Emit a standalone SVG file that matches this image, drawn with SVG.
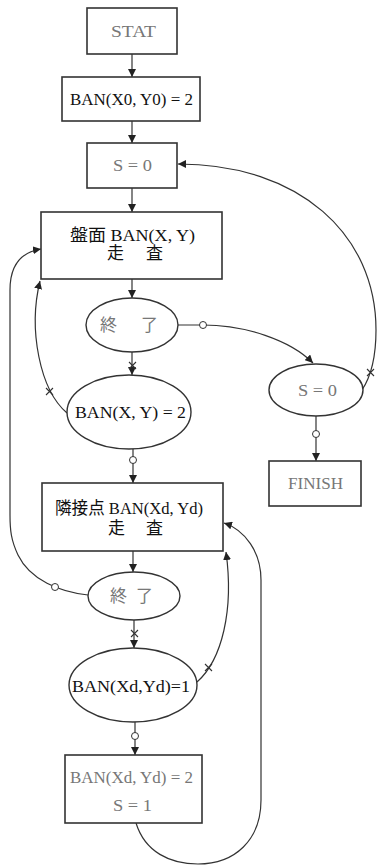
<svg xmlns="http://www.w3.org/2000/svg" width="378" height="866" viewBox="0 0 378 866">
<style>
.box{fill:#fff;stroke:#333;stroke-width:1.6}
.ell{fill:#fff;stroke:#333;stroke-width:1.4}
.ln{fill:none;stroke:#333;stroke-width:1.2}
.arr{fill:none;stroke:#333;stroke-width:1.2;marker-end:url(#ah)}
.t{font-family:"Liberation Serif","Noto Sans CJK JP",serif;font-size:17px;fill:#111}
.g{fill:#777}
.o{fill:#fff;stroke:#333;stroke-width:1}
.x{fill:none;stroke:#333;stroke-width:1.1}
</style>
<defs>
<marker id="ah" viewBox="0 0 8 8" refX="8" refY="4" markerWidth="8" markerHeight="8" markerUnits="userSpaceOnUse" orient="auto">
<path d="M0,0 L8,4 L0,8 z" fill="#222"/>
</marker>
</defs>

<g id="connectors">
<path class="arr" d="M132,54 L132,77"/>
<path class="arr" d="M132,121 L132,143"/>
<path class="arr" d="M132,188 L132,212"/>
<path class="arr" d="M132,279 L132,298"/>
<path class="arr" d="M132,352 L132,375"/>
<path class="arr" d="M133,449 L133,483"/>
<path class="arr" d="M133,551 L133,572"/>
<path class="arr" d="M134,620 L134,648"/>
<path class="arr" d="M135,722 L135,755"/>
<path class="arr" d="M316,416 L316,461"/>
<path class="arr" d="M178,325 L203,325 C245,325 290,340 313,363"/>
<path class="arr" d="M362,390 C370,378 376,360 376,330 C376,235 300,164 178,164"/>
<path class="arr" d="M67,413 C40,390 28,330 40,281"/>
<path class="arr" d="M88,595 C60,592 30,580 18,555 C11,540 10,530 10,515 L10,290 C10,265 22,252 41,249"/>
<path class="arr" d="M197,682 C222,660 234,610 226,552"/>
<path class="arr" d="M136,823 C145,852 170,864 198,864 C235,864 261,840 261,800 L261,580 C261,552 245,530 224,523"/>
<circle class="o" cx="203" cy="325" r="3.5"/>
<circle class="o" cx="316" cy="434" r="3.5"/>
<circle class="o" cx="133" cy="460" r="3.5"/>
<circle class="o" cx="55" cy="587" r="3.5"/>
<circle class="o" cx="135" cy="736" r="3.5"/>
<path class="x" d="M129,362 L136,369 M136,362 L129,369"/>
<path class="x" d="M367,369 L374,376 M374,369 L367,376"/>
<path class="x" d="M46,388 L53,395 M53,388 L46,395"/>
<path class="x" d="M131,630 L138,637 M138,630 L131,637"/>
<path class="x" d="M205,664 L212,671 M212,664 L205,671"/>
</g>

<g id="stat"><rect class="box" x="87" y="8" width="90" height="46"/><text class="t g" x="111" y="37" textLength="45" lengthAdjust="spacingAndGlyphs">STAT</text></g>
<g id="init"><rect class="box" x="62" y="77" width="138" height="44"/><text class="t" x="70" y="105" textLength="123" lengthAdjust="spacingAndGlyphs">BAN(X0, Y0) = 2</text></g>
<g id="s0"><rect class="box" x="87" y="143" width="90" height="45"/><text class="t g" x="113" y="171" textLength="39" lengthAdjust="spacingAndGlyphs">S = 0</text></g>
<g id="scan1"><rect class="box" x="41" y="212" width="181" height="67"/>
<text class="t" x="70" y="241" textLength="125" lengthAdjust="spacingAndGlyphs">盤面 BAN(X, Y)</text>
<text class="t" x="107" y="259" textLength="56" lengthAdjust="spacing">走　査</text></g>
<g id="end1"><ellipse class="ell" cx="132" cy="325" rx="46" ry="27"/><text class="t g" x="100" y="331" textLength="58" lengthAdjust="spacing">終　了</text></g>
<g id="cond1"><ellipse class="ell" cx="129" cy="412" rx="62" ry="37"/><text class="t" x="75" y="418" textLength="111" lengthAdjust="spacingAndGlyphs">BAN(X, Y) = 2</text></g>
<g id="s0check"><ellipse class="ell" cx="316" cy="390" rx="47" ry="26"/><text class="t g" x="298" y="396" textLength="39" lengthAdjust="spacingAndGlyphs">S = 0</text></g>
<g id="finish"><rect class="box" x="269" y="461" width="92" height="45"/><text class="t g" x="288" y="489" textLength="55" lengthAdjust="spacingAndGlyphs">FINISH</text></g>
<g id="scan2"><rect class="box" x="42" y="483" width="181" height="68"/>
<text class="t" x="55" y="514" textLength="148" lengthAdjust="spacingAndGlyphs">隣接点 BAN(Xd, Yd)</text>
<text class="t" x="108" y="534" textLength="55" lengthAdjust="spacing">走　査</text></g>
<g id="end2"><ellipse class="ell" cx="134" cy="596" rx="46" ry="24"/><text class="t g" x="110" y="602" textLength="43" lengthAdjust="spacing">終　了</text></g>
<g id="cond2"><ellipse class="ell" cx="133" cy="685" rx="64" ry="37"/><text class="t" x="72" y="692" textLength="118" lengthAdjust="spacingAndGlyphs">BAN(Xd,Yd)=1</text></g>
<g id="set2"><rect class="box" x="65" y="755" width="137" height="68"/>
<text class="t g" x="70" y="783" textLength="123" lengthAdjust="spacingAndGlyphs">BAN(Xd, Yd) = 2</text>
<text class="t g" x="113" y="811" textLength="39" lengthAdjust="spacingAndGlyphs">S = 1</text></g>
</svg>
